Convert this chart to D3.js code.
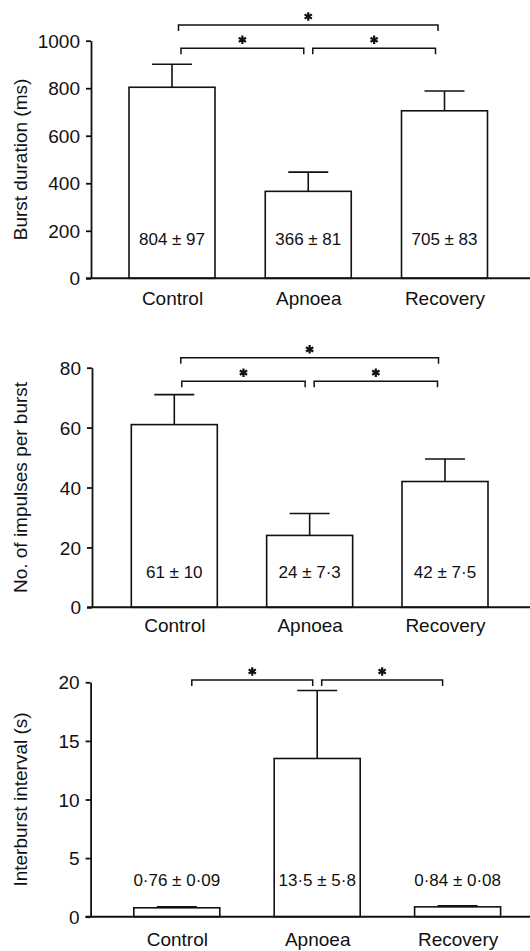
<html>
<head>
<style>
body { margin: 0; background: #fff; }
text { font-family: "Liberation Sans", Arial, Helvetica, sans-serif; fill: #111; }
</style>
</head>
<body>

<svg width="530" height="951" id="fig"></svg>

<script src="https://d3js.org/d3.v7.min.js"></script>
<script>
var categories = ["Control", "Apnoea", "Recovery"];

var burstMean = [804, 366, 705];
var burstSem = [97, 81, 83];
var burstTicks = [0, 200, 400, 600, 800, 1000];

var impulseMean = [61, 24, 42];
var impulseSem = [10, 7.3, 7.5];
var impulseTicks = [0, 20, 40, 60, 80];

var intervalMean = [0.76, 13.5, 0.84];
var intervalSem = [0.09, 5.8, 0.08];
var intervalTicks = [0, 5, 10, 15, 20];

// pairs marked * (p < 0.05)
var burstSig = [["Control", "Recovery"], ["Control", "Apnoea"], ["Apnoea", "Recovery"]];
var impulseSig = [["Control", "Recovery"], ["Control", "Apnoea"], ["Apnoea", "Recovery"]];
var intervalSig = [["Control", "Apnoea"], ["Apnoea", "Recovery"]];

var panels = [
    {mean: burstMean, sem: burstSem, ticks: burstTicks, title: "Burst duration (ms)", sig: burstSig,
     top: 40.7, base: 278.3, axisX: 91, cx: [172, 444.5], catGap: 13.4, valGap: 39,
     levels: {wide: 1066, near: 968}, inset: 9},
    {mean: impulseMean, sem: impulseSem, ticks: impulseTicks, title: "No. of impulses per burst", sig: impulseSig,
     top: 367.7, base: 607.3, axisX: 92, cx: [174.3, 445], catGap: 11, valGap: 35.6,
     levels: {wide: 83.3, near: 75.5}, inset: 7.5},
    {mean: intervalMean, sem: intervalSem, ticks: intervalTicks, title: "Interburst interval (s)", sig: intervalSig,
     top: 682.3, base: 916.7, axisX: 90.6, cx: [176.8, 457.6], catGap: 16, valGap: 36.7,
     levels: {wide: 20.2, near: 20.2}, inset: 15}
];

var svg = d3.select("#fig");

function fmt(v) {
    return String(v).replace(".", "\u00b7");
}

function drawPanel(p) {
    var g = svg.append("g");
    var ticks = p.ticks;
    var y = d3.scaleLinear().domain([0, ticks[ticks.length - 1]]).range([p.base, p.top]);
    var x = d3.scalePoint().domain(categories).range(p.cx);
    var barW = 86;
    var rows = categories.map(function(c, i) { return {cat: c, mean: p.mean[i], sem: p.sem[i]}; });

    // bars
    g.selectAll(".bar")
        .data(rows)
        .enter().append("rect")
        .attr("x", function(d) { return x(d.cat) - barW / 2; })
        .attr("y", function(d) { return y(d.mean); })
        .attr("width", barW)
        .attr("height", function(d) { return y(0) - y(d.mean); })
        .style("fill", "#fff")
        .style("stroke", "#111")
        .style("stroke-width", 1.6);

    // error bars, upper half only
    var err = g.selectAll(".err").data(rows).enter().append("g");
    err.append("line")
        .attr("x1", function(d) { return x(d.cat); })
        .attr("x2", function(d) { return x(d.cat); })
        .attr("y1", function(d) { return y(d.mean); })
        .attr("y2", function(d) { return y(d.mean + d.sem); });
    err.append("line")
        .attr("x1", function(d) { return x(d.cat) - 20; })
        .attr("x2", function(d) { return x(d.cat) + 20; })
        .attr("y1", function(d) { return y(d.mean + d.sem); })
        .attr("y2", function(d) { return y(d.mean + d.sem); });
    err.selectAll("line").style("stroke", "#111").style("stroke-width", 1.6);

    // mean +/- sem labels
    g.selectAll(".val")
        .data(rows)
        .enter().append("text")
        .attr("x", function(d) { return x(d.cat); })
        .attr("y", p.base - p.valGap + 6)
        .attr("text-anchor", "middle")
        .style("font-size", "17px")
        .text(function(d) { return fmt(d.mean) + " \u00b1 " + fmt(d.sem); });

    // y axis
    var ya = g.append("g")
        .attr("transform", "translate(" + p.axisX + ",0)")
        .call(d3.axisLeft(y).tickValues(ticks).tickFormat(d3.format("d"))
            .tickSize(5).tickSizeOuter(0).tickPadding(6));
    ya.selectAll("line, path").style("stroke", "#111").style("stroke-width", 1.8);
    ya.selectAll("text").style("font-size", "19px").attr("dy", "0.35em");

    // baseline
    g.append("line")
        .attr("x1", p.axisX - 5).attr("x2", 530)
        .attr("y1", y(0)).attr("y2", y(0))
        .style("stroke", "#111").style("stroke-width", 2);

    // category labels
    var xa = g.append("g")
        .attr("transform", "translate(0," + p.base + ")")
        .call(d3.axisBottom(x).tickSize(0).tickPadding(p.catGap));
    xa.select(".domain").remove();
    xa.selectAll("text").style("font-size", "19px");

    // y title
    g.append("text")
        .attr("transform", "translate(27," + (p.top + p.base) / 2 + ") rotate(-90)")
        .attr("text-anchor", "middle")
        .style("font-size", "19px")
        .text(p.title);

    // significance brackets
    var mid = x(categories[1]);
    p.sig.forEach(function(pair) {
        var a = categories.indexOf(pair[0]), b = categories.indexOf(pair[1]);
        var wide = (b - a) == 2;
        var by = y(wide ? p.levels.wide : p.levels.near);
        var x1 = x(pair[0]) + (wide ? 6.5 : p.inset);
        var x2 = x(pair[1]) - (wide ? 6.5 : p.inset);
        if (a == 1) x1 = mid + 4.5;
        if (b == 1) x2 = mid - 4.5;
        g.append("path")
            .attr("d", "M" + x1 + "," + (by + 6) + "V" + by + "H" + x2 + "V" + (by + 6))
            .style("fill", "none")
            .style("stroke", "#111")
            .style("stroke-width", 1.5);
        g.append("path")
            .attr("transform", "translate(" + (x1 + x2) / 2 + "," + (by - 8.5) + ")")
            .attr("d", d3.symbol(d3.symbolAsterisk, 50)())
            .style("fill", "none")
            .style("stroke", "#111")
            .style("stroke-width", 2.2);
    });
}

panels.forEach(drawPanel);
</script>

</body>
</html>
